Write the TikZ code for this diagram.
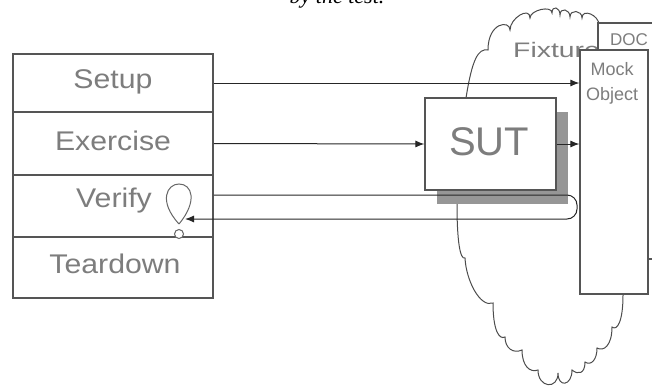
\documentclass[tikz,border=0pt]{standalone}
\usepackage{fontspec}
\setmainfont{Liberation Sans}
\newfontfamily\capfont{Liberation Serif}
\usetikzlibrary{arrows.meta,calc}
\definecolor{txtgray}{RGB}{125,125,125}
\definecolor{boxline}{RGB}{85,85,85}
\definecolor{shadowgray}{RGB}{150,150,150}
\tikzset{
  rowbox/.style={draw=boxline,line width=1.5pt,minimum width=200pt,inner sep=0pt,fill=white},
  rowlabel/.style={text=txtgray,anchor=base,inner sep=0pt,font=\fontsize{27}{30}\selectfont},
  plainbox/.style={draw=boxline,line width=1.2pt,fill=white,inner sep=0pt},
  conn/.style={draw=black!85,line width=1pt,-{Latex[length=9pt,width=7pt]}},
  cloudline/.style={draw=black!70,line width=1pt},
}
\begin{document}
\begin{tikzpicture}[x=1pt,y=-1pt]
\useasboundingbox (0,0) rectangle (652,386);
% caption (cut off at top, as in the reference)
\node[anchor=base,inner sep=0pt,font=\capfont\itshape\fontsize{22}{24}\selectfont] (cap) at (337,3) {by the test.};
% cloud (Fixture)
\draw[cloudline] (466,98) .. controls (472,60) and (478,48) .. (488,50)
  .. controls (488,22) and (510,20) .. (510,30)
  .. controls (510,18) and (530,6) .. (530,18)
  .. controls (530,10) and (552,5) .. (552,13)
  .. controls (552,5) and (560,7) .. (560,15)
  .. controls (560,7) and (570,9) .. (570,17)
  .. controls (570,9) and (582,10) .. (582,18)
  .. controls (582,8) and (599,15) .. (599,25)
  -- (620,40) -- (620,280) -- (623,295)
  .. controls (623,322) and (617,331) .. (612,327)
  .. controls (612,345) and (604,352) .. (597,348)
  .. controls (597,360) and (591,366) .. (585,362)
  .. controls (585,374) and (578,375) .. (572,370)
  .. controls (572,386) and (558,388) .. (558,373)
  .. controls (558,390) and (538,388) .. (538,370)
  .. controls (530,373) and (522,366) .. (522,350)
  .. controls (513,354) and (505,348) .. (505,337)
  .. controls (499,340) and (493,330) .. (493,303)
  .. controls (480,308) and (466,280) .. (465,258)
  .. controls (460,260) and (457,240) .. (457,205)
  -- (462,150) -- cycle;
\node[anchor=base west,inner sep=0pt,text=txtgray,font=\fontsize{21}{24}\selectfont] (fixture) at (513,57) {\scalebox{1.35}[1]{Fixture}};
% DOC and mock object
\node[plainbox,minimum width=82pt,minimum height=236pt] (doc) at (639,141) {};
\node[anchor=base,inner sep=0pt,text=txtgray,font=\fontsize{17}{20}\selectfont] (doclabel) at (629,45) {DOC};
\node[plainbox,minimum width=68pt,minimum height=244pt] (mock) at (614,172) {};
\node[anchor=base,inner sep=0pt,text=txtgray,font=\fontsize{18}{20}\selectfont] (mocklabel) at (612,75) {Mock};
\node[anchor=base,inner sep=0pt,text=txtgray,font=\fontsize{18}{20}\selectfont] (objlabel) at (612,100) {Object};
% SUT with shadow
\node[fill=shadowgray,minimum width=131pt,minimum height=92pt,inner sep=0pt] (sutshadow) at (502.5,158) {};
\node[plainbox,minimum width=131pt,minimum height=92pt] (sut) at (490.5,144) {};
\node[anchor=base,inner sep=0pt,text=txtgray,font=\fontsize{40}{44}\selectfont] (sutlabel) at (489,155) {SUT};
% four-phase stack
\node[rowbox,minimum height=58pt] (setup) at (113,83) {};
\node[rowbox,minimum height=63pt] (exercise) at (113,143.5) {};
\node[rowbox,minimum height=62pt] (verify) at (113,206) {};
\node[rowbox,minimum height=61pt] (teardown) at (113,267.5) {};
\node[rowlabel] (setuplabel) at (113,88) {\scalebox{1.12}[1]{Setup}};
\node[rowlabel] (exerciselabel) at (113,150) {\scalebox{1.12}[1]{Exercise}};
\node[rowlabel] (verifylabel) at (114,207) {\scalebox{1.12}[1]{Verify}};
\node[rowlabel] (teardownlabel) at (115,273) {\scalebox{1.12}[1]{Teardown}};
% verify loop
\draw[draw=black!60,line width=1pt] (179,224) .. controls (158,201) and (167,184) .. (179,184)
  .. controls (192,184) and (198,201) .. (179,224);
\node[circle,draw=black!60,line width=1pt,fill=white,minimum size=9pt,inner sep=0pt] (knob) at (179,234) {};
\coordinate (looptip) at (185,219);
% connectors
\draw[conn] (setup.east) -- (mock.west |- setup.east);
\draw[conn] (exercise.east) -- (sut.west);
\draw[conn] (sut.east) -- (mock.west |- sut.east);
\draw[conn,rounded corners=10pt] ([yshift=11pt]verify.east) -- (577,195) -- (577,219) -- (looptip);
\end{tikzpicture}
\end{document}
